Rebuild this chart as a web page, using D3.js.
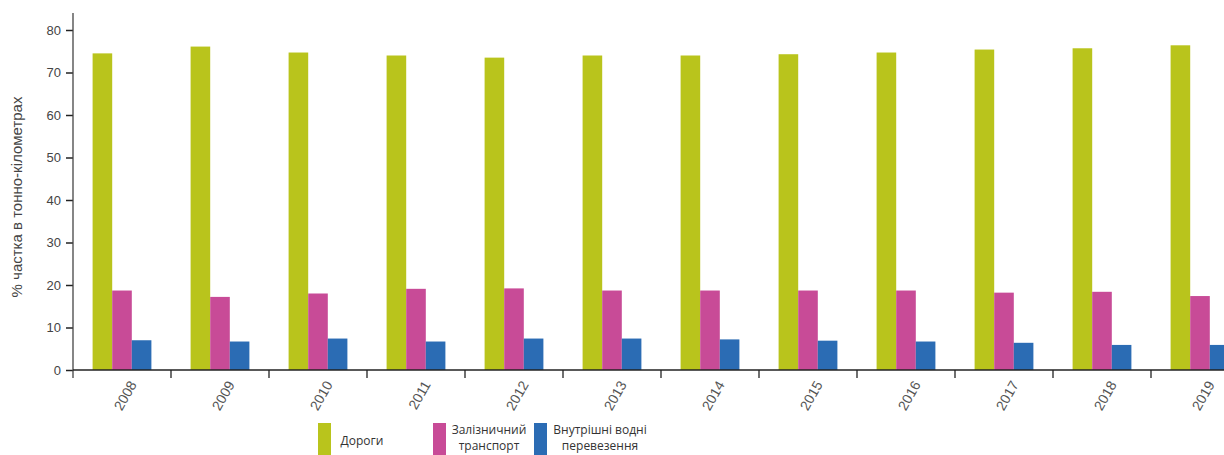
<!DOCTYPE html>
<html>
<head>
<meta charset="utf-8">
<script src="https://cdn.jsdelivr.net/npm/d3@7"></script>
<style>
  body { margin: 0; background: #fff; }
  svg { display: block; font-family: "Liberation Sans", Arial, sans-serif; }
</style>
</head>
<body>
<div id="chart"></div>
<script>
// data
const years = ['2008', '2009', '2010', '2011', '2012', '2013', '2014', '2015', '2016', '2017', '2018', '2019'];
const seriesNames = ['Дороги', 'Залізничний транспорт', 'Внутрішні водні перевезення'];
const roads = [74.5, 76.1, 74.7, 74.0, 73.5, 74.0, 74.0, 74.3, 74.7, 75.4, 75.7, 76.4];
const rail = [18.7, 17.2, 18.0, 19.1, 19.2, 18.7, 18.7, 18.7, 18.7, 18.2, 18.4, 17.4];
const water = [7.0, 6.7, 7.4, 6.7, 7.4, 7.4, 7.2, 6.9, 6.7, 6.4, 5.9, 5.9];
const yTicks = [0, 10, 20, 30, 40, 50, 60, 70, 80];
const colors = ['#b9c41c', '#c84b97', '#2b6cb4'];

const width = 1224, height = 455;
const margin = { top: 30, left: 73, bottom: 85 };
const plotRight = 1249;
const plotBottom = height - margin.bottom; // 370

const data = years.map((y, i) => ({ year: y, values: [roads[i], rail[i], water[i]] }));

const svg = d3.select('#chart').append('svg')
  .attr('width', width)
  .attr('height', height);

const x0 = d3.scaleBand()
  .domain(years)
  .range([margin.left, plotRight])
  .padding(0);

const x1 = d3.scaleBand()
  .domain(d3.range(3))
  .range([x0.bandwidth() * 0.2, x0.bandwidth() * 0.8])
  .padding(0);

const y = d3.scaleLinear()
  .domain([0, 80])
  .range([plotBottom, margin.top]);

// bars
svg.append('g').selectAll('g')
  .data(data)
  .enter().append('g')
  .attr('transform', d => 'translate(' + x0(d.year) + ',0)')
  .selectAll('rect')
  .data(d => d.values)
  .enter().append('rect')
  .attr('x', (d, i) => x1(i))
  .attr('width', x1.bandwidth())
  .attr('y', d => y(d))
  .attr('height', d => y(0) - y(d))
  .attr('fill', (d, i) => colors[i]);

// y axis
const yAxis = svg.append('g')
  .attr('transform', 'translate(' + margin.left + ',0)')
  .call(d3.axisLeft(y).tickValues(yTicks).tickSize(7).tickPadding(5));
yAxis.select('.domain').remove();
yAxis.selectAll('line').attr('stroke', '#222').attr('stroke-width', 1.5);
yAxis.selectAll('text').attr('fill', '#444').style('font-size', '13px');
svg.append('line')
  .attr('x1', margin.left).attr('x2', margin.left)
  .attr('y1', 13).attr('y2', plotBottom + 8)
  .attr('stroke', '#444').attr('stroke-width', 1.3);

// x axis
svg.append('line')
  .attr('x1', margin.left).attr('x2', plotRight)
  .attr('y1', plotBottom).attr('y2', plotBottom)
  .attr('stroke', '#222').attr('stroke-width', 1.3);
svg.append('g').selectAll('line')
  .data(years.slice(1))
  .enter().append('line')
  .attr('x1', d => x0(d)).attr('x2', d => x0(d))
  .attr('y1', plotBottom).attr('y2', plotBottom + 8)
  .attr('stroke', '#222').attr('stroke-width', 1.3);

const xAxis = svg.append('g')
  .attr('transform', 'translate(0,' + plotBottom + ')')
  .call(d3.axisBottom(x0).tickSize(0));
xAxis.select('.domain').remove();
xAxis.selectAll('text')
  .attr('fill', '#555')
  .style('font-size', '14px')
  .attr('text-anchor', 'end')
  .attr('dy', '0.35em')
  .attr('transform', 'translate(11,12) rotate(-60)')
  .attr('x', 0).attr('y', 0);

// y label
svg.append('text')
  .attr('transform', 'translate(22,' + 197 + ') rotate(-90)')
  .attr('text-anchor', 'middle')
  .attr('fill', '#444')
  .style('font-size', '15px')
  .text('% частка в тонно-кілометрах');

// legend
const legendItems = [
  { x: 318, lines: ['Дороги'], tx: 362 },
  { x: 433, lines: ['Залізничний', 'транспорт'], tx: 489 },
  { x: 534, lines: ['Внутрішні водні', 'перевезення'], tx: 600 }
];
const legend = svg.append('g').style('font-family', '"Open Sans", "Liberation Sans", sans-serif');
legendItems.forEach((it, i) => {
  legend.append('rect')
    .attr('x', it.x).attr('y', 423)
    .attr('width', 13).attr('height', 40)
    .attr('fill', colors[i]);
  const t = legend.append('text')
    .attr('text-anchor', 'middle')
    .attr('fill', '#333')
    .style('font-size', '12px')
    .attr('x', it.tx)
    .attr('y', it.lines.length === 1 ? 445 : 434);
  it.lines.forEach((l, j) => {
    t.append('tspan').attr('x', it.tx).attr('dy', j === 0 ? 0 : 16).text(l);
  });
});
</script>
</body>
</html>
